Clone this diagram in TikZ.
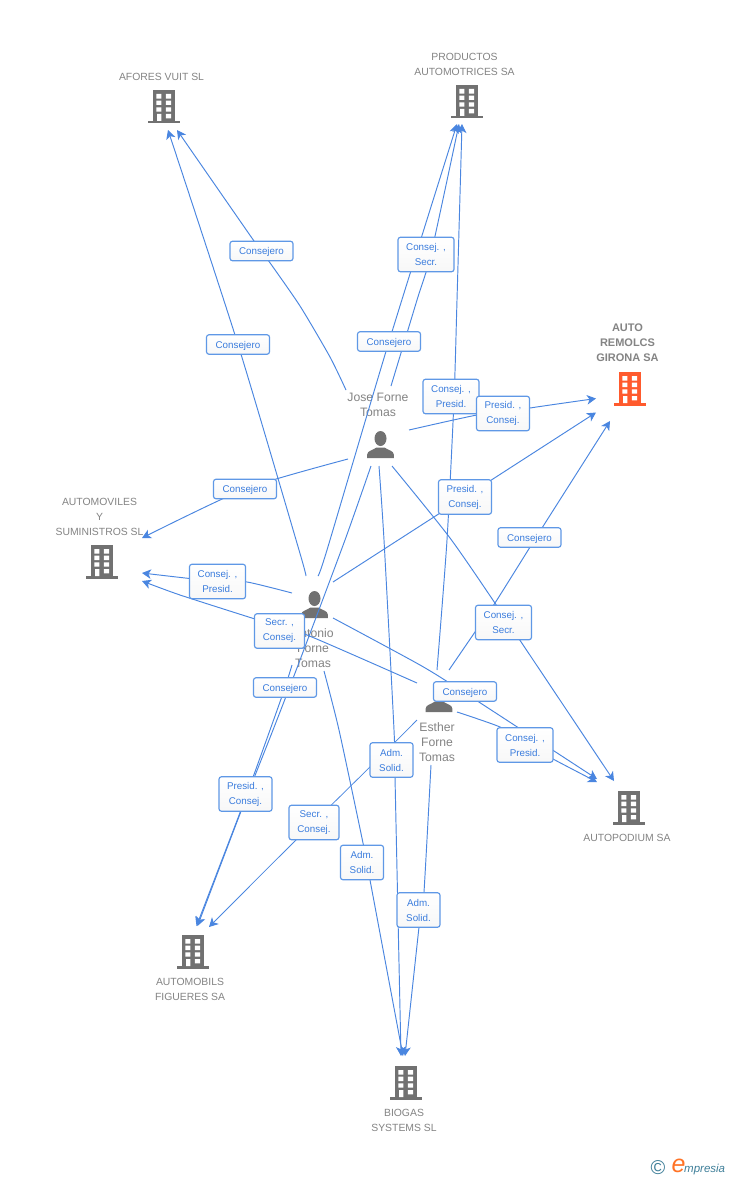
\documentclass[tikz,border=0pt]{standalone}
\usepackage{fontspec}
\setmainfont{Liberation Sans}
\usetikzlibrary{arrows.meta}
\definecolor{lnk}{HTML}{4A86E0}
\definecolor{lnkt}{HTML}{3A7CDD}
\definecolor{edgeb}{HTML}{5F98E6}
\definecolor{icong}{HTML}{717171}
\definecolor{txtg}{HTML}{848484}
\definecolor{orng}{HTML}{FF5A2D}
\definecolor{teal}{HTML}{3F7F99}
\pgfdeclarelayer{base}
\pgfdeclarelayer{lines}
\pgfsetlayers{base,lines,main}
\newcommand\cnx[2][]{\draw[conn,#1] plot[smooth,tension=.4] coordinates {#2};}
\tikzset{
  conn/.style={draw=lnk,line width=.95pt,-{Stealth[length=9pt,width=9.5pt,inset=2.5pt]}},
  lab/.style={draw=edgeb,line width=1.15pt,rounded corners=2.5pt,top color=white,bottom color=black!3,
    text=lnkt,inner sep=0pt,minimum width=#1,font=\fontsize{9.8}{15}\selectfont,align=center},
  lab/.default=56pt,
  one/.style={lab=63pt,minimum height=19.5pt,text height=8pt,text depth=1pt},
  two/.style={lab=#1,minimum height=34.5pt},
  co/.style={text=txtg,font=\fontsize{10.4}{15}\selectfont,align=center,inner sep=0pt,yshift=-1pt},
  coact/.style={text=txtg,font=\fontsize{11}{15}\selectfont\bfseries,align=center,inner sep=0pt,yshift=-.5pt},
  pers/.style={text=txtg,font=\fontsize{12.2}{15}\selectfont,align=center,inner sep=0pt,yshift=-1pt},
  pics/bld/.style={code={
    \fill[#1] (-11.3,0) rectangle (11.3,32);
    \fill[#1] (-16,31) rectangle (16,33.5);
    \fill[white] (-7.6,4) rectangle (-2.7,8.7) (1.9,4) rectangle (7.2,8.7)
      (-7.6,10.7) rectangle (-2.7,15) (1.9,10.7) rectangle (7.2,15)
      (-7.6,17.3) rectangle (-2.7,21.7) (1.9,17.3) rectangle (7.2,21.7)
      (-7,24) rectangle (-2.7,31) (1.9,24) rectangle (7.2,28.3);
  }},
  pics/prs/.style={code={
    \fill[icong] (0,7.5) ellipse (6 and 7.5);
    \fill[icong] (-13.3,27) -- (-13.3,23.5) .. controls (-13,19.5) and (-8,19.5) .. (-4,16.5)
      -- (4,16.5) .. controls (8,19.5) and (13,19.5) .. (13.3,23.5) -- (13.3,27) -- cycle;
  }}
}
\begin{document}
\begin{tikzpicture}[x=1pt,y=-1pt]
\useasboundingbox (0,0) rectangle (728,1180);
\begin{pgfonlayer}{base}
\fill[white] (0,0) rectangle (728,1180);
\pic at (164,90) {bld=icong};
\pic at (467,85) {bld=icong};
\pic at (630,372) {bld=orng};
\pic at (102,545) {bld=icong};
\pic at (629,791) {bld=icong};
\pic at (193,935) {bld=icong};
\pic at (406,1066) {bld=icong};
\pic at (380.5,431) {prs};
\pic at (314.5,591) {prs};
\pic at (439,685) {prs};
\node[co] (afores) at (161.5,76) {AFORES VUIT SL};
\node[co] (productos) at (464.5,63.5) {PRODUCTOS\\AUTOMOTRICES SA};
\node[coact] (auto) at (627.5,342) {AUTO\\REMOLCS\\GIRONA SA};
\node[co] (automoviles) at (99.5,516) {AUTOMOVILES\\Y\\SUMINISTROS SL};
\node[co] (autopodium) at (627,837) {AUTOPODIUM SA};
\node[co] (automobils) at (190,988.5) {AUTOMOBILS\\FIGUERES SA};
\node[co] (biogas) at (404,1119.5) {BIOGAS\\SYSTEMS SL};
\node[pers] (jose) at (378,404) {Jose Forne\\Tomas};
\node[pers] (antonio) at (313,647) {Antonio\\Forne\\Tomas};
\node[pers] (esther) at (437,741) {Esther\\Forne\\Tomas};
\node[text=teal,font=\fontsize{20}{20}\selectfont,inner sep=0pt] (copy) at (658,1168) {©};
\node[text=orng!85!yellow,font=\fontsize{25}{25}\selectfont\itshape,inner sep=0pt] (logoe) at (678.5,1166) {e};
\node[text=teal,font=\fontsize{11.5}{12}\selectfont\itshape,inner sep=0pt,anchor=west] (logom) at (684,1170) {mpresia};
\end{pgfonlayer}

\node[one] (l1) at (261.5,251) {Consejero};
\node[two=56pt] (l2) at (426,254.5) {Consej. ,\\Secr.};
\node[one] (l3) at (238,344.5) {Consejero};
\node[one] (l4) at (389,341.5) {Consejero};
\node[two=56pt] (l5) at (451,396.5) {Consej. ,\\Presid.};
\node[two=53pt] (l6) at (503,413.5) {Presid. ,\\Consej.};
\node[two=53pt] (l7) at (465,497) {Presid. ,\\Consej.};
\node[one] (l8) at (245,489) {Consejero};
\node[one] (l9) at (529.5,537.5) {Consejero};
\node[two=56pt] (l10) at (217.5,581.5) {Consej. ,\\Presid.};
\node[two=56pt] (l11) at (503.5,622.5) {Consej. ,\\Secr.};
\node[two=50pt] (l12) at (279.5,631) {Secr. ,\\Consej.};
\node[one] (l13) at (285,687.5) {Consejero};
\node[one] (l14) at (465,691.5) {Consejero};
\node[two=56pt] (l15) at (525,745) {Consej. ,\\Presid.};
\node[two=43pt] (l16) at (391.5,760) {Adm.\\Solid.};
\node[two=53pt] (l17) at (245.5,794) {Presid. ,\\Consej.};
\node[two=50pt] (l18) at (314,822.5) {Secr. ,\\Consej.};
\node[two=43pt] (l19) at (362,862.5) {Adm.\\Solid.};
\node[two=43pt] (l20) at (418.5,910) {Adm.\\Solid.};

\coordinate (jA) at (346,390);   \coordinate (tA) at (177,130);
\coordinate (jP) at (391,386);   \coordinate (tP) at (459,124);
\coordinate (jR) at (409,430);   \coordinate (tR) at (596,398.5);
\coordinate (jV) at (348,459);   \coordinate (tV) at (142,538);
\coordinate (jU) at (392,466);   \coordinate (tU) at (614,781);
\coordinate (jB) at (379,466);   \coordinate (tB) at (401,1056);
\coordinate (jM) at (371,466);   \coordinate (tM) at (197.5,926);
\coordinate (aA) at (306,576);   \coordinate (uA) at (168,130);
\coordinate (aP) at (318,576);   \coordinate (uP) at (457,124);
\coordinate (aR) at (333,582);   \coordinate (uR) at (596,412.5);
\coordinate (aV) at (292,593);   \coordinate (uV) at (142,573);
\coordinate (aU) at (333,618);   \coordinate (uU) at (597,779);
\coordinate (aB) at (324,671);   \coordinate (uB) at (403,1056);
\coordinate (aM) at (292,665);   \coordinate (uM) at (196.5,926);
\coordinate (eP) at (437,670);   \coordinate (vP) at (462,124);
\coordinate (eR) at (449,670);   \coordinate (vR) at (610,421);
\coordinate (eV) at (417,683);   \coordinate (vV) at (142,581);
\coordinate (eU) at (457,712);   \coordinate (vU) at (597,782);
\coordinate (eM) at (417,720);   \coordinate (vM) at (209,927);
\coordinate (eB) at (431,765);   \coordinate (vB) at (405,1056);

\begin{pgfonlayer}{lines}
\cnx{(jA) (330,357) (300,306) (268,260) (254,241) (tA)}
\cnx{(jP) (417,300) (431,254) (tP)}
\cnx{(jR) (477,415) (l6.center) (530,408) (tR)}
\cnx{(jV) (l8.center) (tV)}
\cnx{(jU) (450,538) (503,615) (tU)}
\cnx{(jB) (384,540) (394,730) (395,777) (tB)}
\cnx{(jM) (345,540) (300,660) (273,730) (241.5,810) (tM)}
\cnx{(aA) (299,550) (l3.center) (uA)}
\cnx{(aP) (327,550) (l4.center) (uP)}
\cnx{(aR) (l7.center) (uR)}
\cnx{(aV) (247,582) (l10.center) (uV)}
\cnx{(aU) (420,665) (465,693) (uU)}
\cnx{(aB) (339,730) (363,843) (370,880) (uB)}
\cnx{(aM) (l13.center) (270,730) (241,810) (uM)}
\cnx{(eP) (447,540) (454,400) (457,300) (vP)}
\cnx{(eR) (475,632) (495,603) (542,528) (vR)}
\cnx{(eV) (307,635) (255,619) (180,595) (vV)}
\cnx{(eU) (500,727) (525,743) (553,759) (vU)}
\cnx[line width=.75pt]{(eM) (377,760) (297,839) (vM)}
\cnx{(eB) (424,892) (421,910) (419,927) (vB)}
\end{pgfonlayer}
\end{tikzpicture}
\end{document}
